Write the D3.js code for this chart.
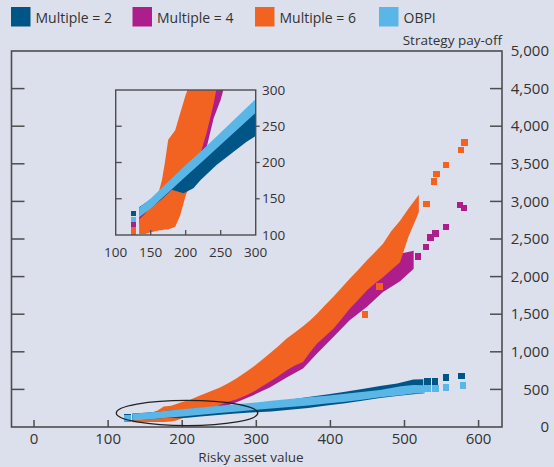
<!DOCTYPE html>
<html>
<head>
<meta charset="utf-8">
<script src="https://cdn.jsdelivr.net/npm/d3@7"></script>
<style>
  body { margin: 0; background: #dce0ec; }
  svg { display: block; font-family: "Open Sans", sans-serif; }
</style>
</head>
<body>
<svg id="chart" width="554" height="467"></svg>
<script>
// series names and colours (legend order)
const seriesNames = ["Multiple = 2", "Multiple = 4", "Multiple = 6", "OBPI"];
const seriesColors = ["#005587", "#ad1e8c", "#f26322", "#5bb6e8"];

// bands: [risky asset value, lowest pay-off, highest pay-off]
// points: [risky asset value, pay-off] for the stray simulations
const m2Band = [
  [137, 130, 135], [150, 141, 146], [165, 152, 158], [180, 166, 172], [197, 161, 182],
  [211, 168, 195], [221, 179, 205], [244, 200, 226], [268, 218, 246], [287, 232, 258],
  [300, 240, 266], [320, 250, 288], [345, 272, 320], [370, 295, 355], [395, 330, 390],
  [420, 360, 425], [445, 395, 465], [467, 430, 501], [490, 455, 535], [512, 480, 589],
  [521, 490, 593]
];
const m2Points = [[126, 129], [531, 603], [541, 603], [556, 656], [577, 676]];

const m4Band = [
  [137, 119, 123], [150, 125, 135], [165, 135, 150], [180, 145, 170], [195, 160, 190],
  [210, 180, 215], [225, 205, 245], [240, 265, 290], [250, 290, 330], [275, 380, 470],
  [296, 467, 560], [318, 569, 680], [341, 702, 830], [363, 821, 960], [382, 1020, 1170],
  [404, 1241, 1380], [426, 1462, 1640], [449, 1638, 1880], [471, 1838, 2060],
  [494, 1980, 2260], [508, 2148, 2300]
];
const m4Points = [
  [126, 114], [518, 2267], [529, 2391], [535, 2519], [542, 2572], [556, 2661],
  [575, 2953], [580, 2911]
];

const m6Band = [
  [137, 105, 118], [142, 105, 126], [149, 107, 136], [158, 109, 145], [162, 110, 158],
  [166, 110, 172], [170, 111, 195], [175, 111, 228], [185, 115, 241], [192, 130, 264],
  [200, 158, 290], [210, 183, 315], [220, 212, 360], [230, 245, 400], [240, 285, 440],
  [251, 340, 483], [262, 380, 540], [273, 410, 602], [285, 460, 680], [296, 511, 757],
  [307, 578, 845], [318, 644, 934], [330, 720, 1035], [341, 799, 1133], [352, 860, 1215],
  [363, 909, 1296], [372, 1030, 1370], [382, 1153, 1464], [393, 1250, 1580],
  [404, 1351, 1690], [415, 1480, 1810], [426, 1616, 1928], [438, 1740, 2050],
  [449, 1860, 2171], [460, 1950, 2280], [471, 2036, 2392], [482, 2130, 2560],
  [494, 2235, 2700], [505, 2563, 2857], [515, 2900, 3045]
];
const m6Points = [
  [126, 104], [126, 108], [447, 1495], [466, 1870], [530, 2963], [540, 3262],
  [543, 3364], [556, 3483], [576, 3682], [581, 3783]
];

const obpiBand = [
  [137, 128, 134], [150, 140, 147], [175, 162, 170], [200, 184, 193], [225, 206, 215],
  [250, 228, 238], [275, 250, 261], [300, 272, 284], [320, 290, 306], [345, 310, 330],
  [370, 330, 352], [395, 355, 372], [420, 378, 398], [445, 410, 425], [467, 440, 450],
  [495, 467, 500], [512, 490, 514], [523, 490, 513]
];
const obpiPoints = [[126, 121], [531, 510], [542, 510], [556, 524], [579, 550]];

// axis ticks
const assetTicks = [0, 100, 200, 300, 400, 500, 600];
const payoffTicks = [0, 500, 1000, 1500, 2000, 2500, 3000, 3500, 4000, 4500, 5000];
const insetTicks = [100, 150, 200, 250, 300];

// circled region that the inset magnifies: [asset from, asset to], [pay-off from, pay-off to]
const circleAsset = [111, 302];
const circlePayoff = [18, 354];

const svg = d3.select("#chart");
const fmt = d3.format(",");
const lineColor = "#4d4d4f";
const textColor = "#333";

// draw order: magenta, orange, dark blue, light blue on top
const layers = [
  { band: m4Band, points: m4Points, color: seriesColors[1] },
  { band: m6Band, points: m6Points, color: seriesColors[2] },
  { band: m2Band, points: m2Points, color: seriesColors[0] },
  { band: obpiBand, points: obpiPoints, color: seriesColors[3] }
];

// each band is the envelope of its square markers, half = half a marker in px
function drawSeries(g, x, y, half) {
  layers.forEach(layer => {
    const area = d3.area()
      .x((d, i, arr) => x(d[0]) + (i === 0 ? -half : i === arr.length - 1 ? half : 0))
      .y0(d => y(d[1]) + half)
      .y1(d => y(d[2]) - half);
    g.append("path")
      .datum(layer.band)
      .attr("d", area)
      .attr("fill", layer.color);
    g.append("g").selectAll("rect")
      .data(layer.points)
      .join("rect")
      .attr("x", d => x(d[0]) - half)
      .attr("y", d => y(d[1]) - half)
      .attr("width", 2 * half)
      .attr("height", 2 * half)
      .attr("fill", layer.color)
      .attr("shape-rendering", "crispEdges");
  });
}

// ---- main chart ----
const x = d3.scaleLinear().domain([-30.4, 631.6]).range([11.5, 502]);
const y = d3.scaleLinear().domain([0, 5000]).range([427, 51]);

drawSeries(svg.append("g"), x, y, 3.25);

// frame
svg.append("rect")
  .attr("x", x.range()[0]).attr("y", y.range()[1])
  .attr("width", x.range()[1] - x.range()[0])
  .attr("height", y.range()[0] - y.range()[1])
  .attr("fill", "none").attr("stroke", lineColor).attr("stroke-width", 1.6);

// x ticks (inside, upward)
svg.append("g").selectAll("line")
  .data(assetTicks)
  .join("line")
  .attr("x1", d => x(d)).attr("x2", d => x(d))
  .attr("y1", y(0)).attr("y2", y(0) - 7)
  .attr("stroke", lineColor).attr("stroke-width", 1.5);
svg.append("g").selectAll("text")
  .data(assetTicks)
  .join("text")
  .attr("x", d => x(d)).attr("y", 444)
  .attr("text-anchor", "middle")
  .attr("font-size", 15).attr("fill", textColor)
  .text(d => d);

// y ticks on both sides (inside)
const innerPayoff = payoffTicks.filter(d => d > 0 && d < 5000);
svg.append("g").selectAll("line")
  .data(innerPayoff)
  .join("line")
  .attr("x1", x.range()[0]).attr("x2", x.range()[0] + 13)
  .attr("y1", d => y(d)).attr("y2", d => y(d))
  .attr("stroke", lineColor).attr("stroke-width", 1.5);
svg.append("g").selectAll("line")
  .data(innerPayoff)
  .join("line")
  .attr("x1", x.range()[1] - 12).attr("x2", x.range()[1])
  .attr("y1", d => y(d)).attr("y2", d => y(d))
  .attr("stroke", lineColor).attr("stroke-width", 1.5);
svg.append("g").selectAll("text")
  .data(payoffTicks)
  .join("text")
  .attr("x", 549).attr("y", d => y(d))
  .attr("dy", "0.35em")
  .attr("text-anchor", "end")
  .attr("font-size", 15).attr("fill", textColor)
  .text(d => fmt(d));

svg.append("text")
  .attr("x", 502).attr("y", 45)
  .attr("text-anchor", "end")
  .attr("font-size", 13.5).attr("fill", textColor)
  .text("Strategy pay-off");
svg.append("text")
  .attr("x", 251).attr("y", 462)
  .attr("text-anchor", "middle")
  .attr("font-size", 13.5).attr("fill", textColor)
  .text("Risky asset value");

// ellipse round the magnified region
svg.append("ellipse")
  .attr("cx", (x(circleAsset[0]) + x(circleAsset[1])) / 2)
  .attr("cy", (y(circlePayoff[0]) + y(circlePayoff[1])) / 2)
  .attr("rx", (x(circleAsset[1]) - x(circleAsset[0])) / 2)
  .attr("ry", (y(circlePayoff[0]) - y(circlePayoff[1])) / 2)
  .attr("fill", "none").attr("stroke", "#222").attr("stroke-width", 1.3);

// ---- inset ----
const ix = d3.scaleLinear().domain([100, 300]).range([115.7, 255.7]);
const iy = d3.scaleLinear().domain([100, 300]).range([235, 90]);

svg.append("clipPath").attr("id", "insetClip")
  .append("rect")
  .attr("x", ix.range()[0]).attr("y", iy.range()[1])
  .attr("width", ix.range()[1] - ix.range()[0])
  .attr("height", iy.range()[0] - iy.range()[1]);

const inset = svg.append("g");
inset.append("rect")
  .attr("x", ix.range()[0]).attr("y", iy.range()[1])
  .attr("width", ix.range()[1] - ix.range()[0])
  .attr("height", iy.range()[0] - iy.range()[1])
  .attr("fill", "#dce0ec");
drawSeries(inset.append("g").attr("clip-path", "url(#insetClip)"), ix, iy, 2.5);

inset.append("rect")
  .attr("x", ix.range()[0]).attr("y", iy.range()[1])
  .attr("width", ix.range()[1] - ix.range()[0])
  .attr("height", iy.range()[0] - iy.range()[1])
  .attr("fill", "none").attr("stroke", lineColor).attr("stroke-width", 1.4);

const insetInner = insetTicks.filter(d => d > 100 && d < 300);
inset.append("g").selectAll("line")
  .data(insetInner)
  .join("line")
  .attr("x1", d => ix(d)).attr("x2", d => ix(d))
  .attr("y1", iy(100)).attr("y2", iy(100) - 5)
  .attr("stroke", lineColor).attr("stroke-width", 1.3);
inset.append("g").selectAll("line")
  .data(insetInner)
  .join("line")
  .attr("x1", ix(100)).attr("x2", ix(100) + 6)
  .attr("y1", d => iy(d)).attr("y2", d => iy(d))
  .attr("stroke", lineColor).attr("stroke-width", 1.3);
inset.append("g").selectAll("line")
  .data(insetInner)
  .join("line")
  .attr("x1", ix(300)).attr("x2", ix(300) + 4)
  .attr("y1", d => iy(d)).attr("y2", d => iy(d))
  .attr("stroke", lineColor).attr("stroke-width", 1.3);
inset.append("g").selectAll("text")
  .data(insetTicks)
  .join("text")
  .attr("x", d => ix(d)).attr("y", 256.5)
  .attr("text-anchor", "middle")
  .attr("font-size", 13.5).attr("fill", textColor)
  .text(d => d);
inset.append("g").selectAll("text")
  .data(insetTicks)
  .join("text")
  .attr("x", 262).attr("y", d => iy(d))
  .attr("dy", "0.35em")
  .attr("font-size", 13.5).attr("fill", textColor)
  .text(d => d);

// ---- legend ----
const legendX = [11, 132.5, 255, 379];
const legend = svg.append("g").selectAll("g")
  .data(seriesNames)
  .join("g")
  .attr("transform", (d, i) => `translate(${legendX[i]},7)`);
legend.append("rect")
  .attr("width", 19.5).attr("height", 19.5)
  .attr("fill", (d, i) => seriesColors[i]);
legend.append("text")
  .attr("x", 24.5).attr("y", 16)
  .attr("font-size", 14).attr("fill", textColor)
  .text(d => d);
</script>
</body>
</html>
